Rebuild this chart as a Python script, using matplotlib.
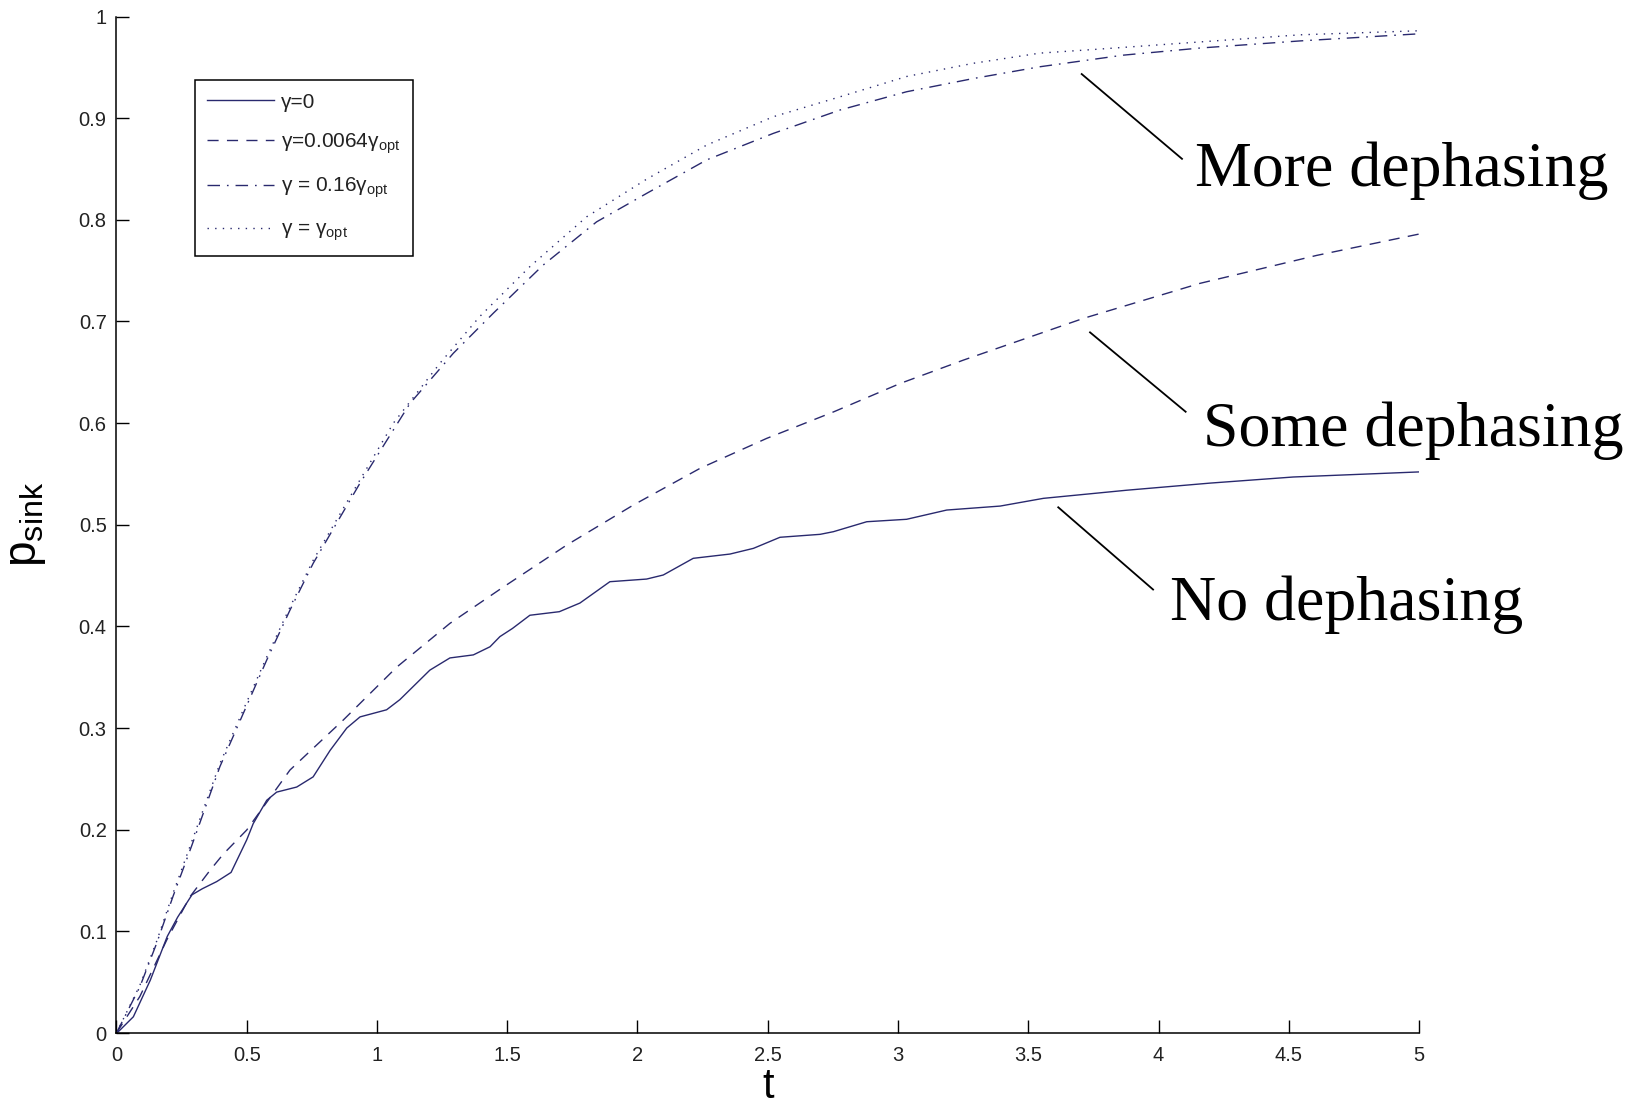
import matplotlib as mpl
mpl.use('Agg')
import matplotlib.pyplot as plt
from matplotlib.ticker import FormatStrFormatter, MultipleLocator

plt.rcParams['font.family'] = ['Liberation Sans', 'DejaVu Sans']
plt.rcParams['mathtext.fontset'] = 'custom'
plt.rcParams['mathtext.rm'] = 'Liberation Sans'
plt.rcParams['mathtext.it'] = 'Liberation Sans:italic'

# gamma = 0 (no dephasing)
t_none = [0, 0.01, 0.065, 0.13, 0.195, 0.235, 0.29, 0.33, 0.385, 0.44, 0.5, 0.525,
          0.577, 0.615, 0.692, 0.755, 0.82, 0.884, 0.935, 1.037, 1.088, 1.203, 1.28,
          1.37, 1.434, 1.472, 1.52, 1.587, 1.70, 1.779, 1.894, 2.035, 2.099, 2.214,
          2.355, 2.445, 2.547, 2.701, 2.752, 2.88, 3.033, 3.187, 3.392, 3.558, 3.878,
          4.198, 4.517, 5.0]
p_none = [0, 0.002, 0.016, 0.052, 0.095, 0.114, 0.136, 0.142, 0.149, 0.158, 0.19, 0.206,
          0.229, 0.237, 0.242, 0.252, 0.278, 0.300, 0.311, 0.318, 0.328, 0.357, 0.369,
          0.372, 0.380, 0.390, 0.398, 0.411, 0.4145, 0.423, 0.444, 0.4466, 0.4506, 0.467,
          0.4712, 0.4768, 0.4877, 0.4906, 0.4932, 0.503, 0.5054, 0.5145, 0.5184, 0.526, 0.534,
          0.541, 0.547, 0.552]

# gamma = 0.0064 gamma_opt
t_some = [0, 0.09, 0.193, 0.282, 0.359, 0.41, 0.5, 0.666, 0.871, 1.076, 1.28, 1.472,
          1.728, 1.984, 2.24, 2.496, 2.752, 3.008, 3.251, 3.711, 4.159, 4.607, 5.0]
p_some = [0, 0.036, 0.0915, 0.134, 0.160, 0.176, 0.1997, 0.2587, 0.308, 0.360, 0.403, 0.4365,
          0.480, 0.5194, 0.5555, 0.585, 0.611, 0.639, 0.662, 0.703, 0.7375, 0.765, 0.786]

# gamma = 0.16 gamma_opt
t_more = [0, 0.09, 0.154, 0.218, 0.29, 0.397, 0.487, 0.577, 0.666, 0.755, 0.935, 1.127,
          1.293, 1.446, 1.638, 1.843, 2.035, 2.266, 2.521, 2.777, 3.033, 3.289, 3.545,
          3.865, 4.159, 4.543, 5.0]
p_more = [0, 0.0455, 0.088, 0.135, 0.185, 0.262, 0.3145, 0.367, 0.416, 0.462, 0.541, 0.6195,
          0.6687, 0.708, 0.7555, 0.798, 0.826, 0.859, 0.885, 0.908, 0.926, 0.939, 0.9506,
          0.962, 0.969, 0.976, 0.983]

# gamma = gamma_opt
t_opt = [0, 0.09, 0.154, 0.218, 0.29, 0.397, 0.487, 0.577, 0.666, 0.755, 0.884, 1.063,
         1.242, 1.395, 1.587, 1.805, 2.035, 2.266, 2.521, 2.777, 3.033, 3.289, 3.545,
         3.775, 4.159, 4.543, 5.0]
p_opt = [0, 0.047, 0.09, 0.138, 0.189, 0.265, 0.318, 0.37, 0.419, 0.465, 0.522, 0.6,
         0.659, 0.705, 0.754, 0.803, 0.84, 0.8736, 0.9014, 0.921, 0.941, 0.954, 0.964,
         0.968, 0.975, 0.982, 0.986]

labels = ['γ=0', 'γ=0.0064γ$_{\\mathrm{opt}}$', 'γ = 0.16γ$_{\\mathrm{opt}}$', 'γ = γ$_{\\mathrm{opt}}$']
notes = ['No dephasing', 'Some dephasing', 'More dephasing']

col = '#29296e'

fig = plt.figure(figsize=(16.33, 11.09), dpi=100)
ax = fig.add_axes([0.0713, 0.0685, 0.869 - 0.0713, 0.9851 - 0.0685])

ax.plot(t_none, p_none, color=col, lw=1.0, ls='-', label=labels[0])
ax.plot(t_some, p_some, color=col, lw=1.0, ls=(0, (8, 6)), label=labels[1])
ax.plot(t_more, p_more, color=col, lw=1.0, ls=(0, (9, 5, 1.2, 5)), label=labels[2])
ax.plot(t_opt, p_opt, color=col, lw=1.0, ls=(0, (1, 4.5)), label=labels[3])

ax.set_xlim(0, 5)
ax.set_ylim(0, 1)
ax.xaxis.set_major_locator(MultipleLocator(0.5))
ax.yaxis.set_major_locator(MultipleLocator(0.1))
ax.xaxis.set_major_formatter(FormatStrFormatter('%g'))
ax.yaxis.set_major_formatter(FormatStrFormatter('%g'))
ax.tick_params(direction='in', length=9.5, width=1.0, labelsize=14.5,
               labelcolor='#222222', pad=7)
ax.tick_params(axis='x', pad=9)
for s in ['top', 'right']:
    ax.spines[s].set_visible(False)
for s in ['left', 'bottom']:
    ax.spines[s].set_linewidth(1.1)

ax.set_xlabel('t', fontsize=30, labelpad=2)
ax.set_ylabel('p$_{\\mathrm{sink}}$', fontsize=33, labelpad=22)

leg = ax.legend(loc='upper left', bbox_to_anchor=(0.0603, 0.9375), borderaxespad=0,
                fontsize=15, handlelength=3.2, handletextpad=0.33, labelspacing=0.95,
                borderpad=0.6, fancybox=False, framealpha=1)
leg.get_frame().set_edgecolor('black')
leg.get_frame().set_linewidth(1.1)
for txt in leg.get_texts():
    txt.set_color('#222222')

# annotation leader lines and labels
ax.plot([3.615, 3.979], [0.5172, 0.4363], color='black', lw=1.3, clip_on=False)
ax.plot([3.737, 4.104], [0.6893, 0.6112], color='black', lw=1.3, clip_on=False)
ax.plot([3.705, 4.09], [0.9434, 0.8600], color='black', lw=1.3, clip_on=False)
serif = ['Liberation Serif', 'DejaVu Serif']
ax.text(4.043, 0.4066, notes[0], fontsize=46, family=serif, ha='left', va='baseline', clip_on=False)
ax.text(4.171, 0.5778, notes[1], fontsize=46, family=serif, ha='left', va='baseline', clip_on=False)
ax.text(4.139, 0.833, notes[2], fontsize=46, family=serif, ha='left', va='baseline', clip_on=False)

fig.savefig('out.png', dpi=100)
